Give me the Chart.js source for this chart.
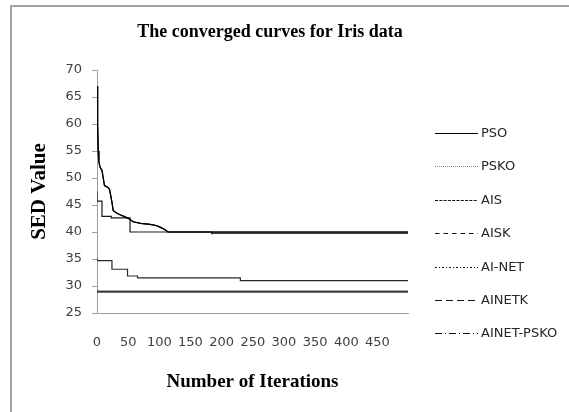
<!DOCTYPE html>
<html><head><meta charset="utf-8">
<script src="https://cdn.jsdelivr.net/npm/chart.js@4.4.1/dist/chart.umd.min.js"></script>
<style>html,body{margin:0;padding:0;background:#fff}</style>
</head><body>
<canvas id="c" width="569" height="412"></canvas>
<script>
// ---------- data ----------
const seriesNames = ['PSO', 'PSKO', 'AIS', 'AISK', 'AI-NET', 'AINETK', 'AINET-PSKO'];

const psoIter = [0, 1, 2, 3, 5, 8, 10, 12, 17, 20, 22, 24, 26, 30, 37, 45, 52, 58, 70, 85, 95, 101, 108, 114, 499];
const psoVal  = [67, 60, 55, 53, 52, 51.4, 50, 48.6, 48.3, 47.9, 46.8, 45.5, 44, 43.6, 43.2, 42.8, 42.4, 41.9, 41.6, 41.4, 41.2, 40.9, 40.5, 40, 40];

const pskoIter = [0, 8, 23, 53, 58, 499];
const pskoVal  = [47.5, 45.7, 42.9, 42.6, 40, 40];

const aisIter = [0, 1, 2, 3, 5, 8, 10, 12, 17, 20, 22, 24, 26, 30, 37, 45, 52, 58, 70, 85, 95, 101, 108, 114, 183, 184, 499];
const aisVal  = [67, 60, 55, 53, 52, 51.4, 50, 48.6, 48.3, 47.9, 46.8, 45.5, 44, 43.6, 43.2, 42.8, 42.4, 41.9, 41.6, 41.4, 41.2, 40.9, 40.5, 40, 40, 39.8, 39.8];

const aiskIter = [0, 24, 49, 65, 230, 254, 499];
const aiskVal  = [35.2, 34.7, 33.1, 31.85, 31.5, 31.0, 31.0];

const ainetIter = [0, 3, 499];
const ainetVal  = [29.3, 29.0, 29.0];

const ainetkIter = [0, 499];
const ainetkVal  = [28.85, 28.85];

const ainetPskoIter = [0, 499];
const ainetPskoVal  = [29.0, 29.0];

const xTickValues = [0, 50, 100, 150, 200, 250, 300, 350, 400, 450];
const yTickValues = [25, 30, 35, 40, 45, 50, 55, 60, 65, 70];

// ---------- styles ----------
const lineColors  = ['#000000', '#1a1a1a', '#000000', '#2a2a2a', '#3a3a3a', '#3a3a3a', '#3a3a3a'];
const steppedMode = [false, 'after', false, 'after', 'after', 'after', 'after'];
const legendDash  = [[], [1, 1], [3, 1.3], [4.5, 4], [2, 2, 1, 2], [7, 4], [7, 3, 1, 3]];
const legendColor = ['#000', '#8a8a8a', '#111', '#111', '#111', '#111', '#111'];

const iters = [psoIter, pskoIter, aisIter, aiskIter, ainetIter, ainetkIter, ainetPskoIter];
const vals  = [psoVal, pskoVal, aisVal, aiskVal, ainetVal, ainetkVal, ainetPskoVal];

const datasets = seriesNames.map((name, i) => ({
  label: name,
  data: iters[i].map((x, k) => ({ x: x, y: vals[i][k] })),
  borderColor: lineColors[i],
  borderWidth: 1.2,
  pointRadius: 0,
  fill: false,
  tension: 0,
  stepped: steppedMode[i]
}));

const frame = {
  id: 'frame',
  beforeDraw(chart) {
    const ctx = chart.ctx;
    ctx.save();
    ctx.fillStyle = '#ffffff';
    ctx.fillRect(0, 0, chart.width, chart.height);
    ctx.strokeStyle = '#a3a3a3';
    ctx.lineWidth = 2;
    ctx.beginPath();
    ctx.moveTo(11, chart.height);
    ctx.lineTo(11, 6);
    ctx.lineTo(chart.width, 6);
    ctx.stroke();
    ctx.restore();
  }
};

const sideLegend = {
  id: 'sideLegend',
  afterDraw(chart) {
    const ctx = chart.ctx;
    ctx.save();
    ctx.font = '13px "DejaVu Sans"';
    ctx.textBaseline = 'middle';
    ctx.textAlign = 'left';
    chart.data.datasets.forEach((ds, i) => {
      const y = Math.round(132.7 + i * 33.45) + 0.5;
      ctx.strokeStyle = legendColor[i];
      ctx.lineWidth = 1.2;
      ctx.setLineDash(legendDash[i]);
      ctx.beginPath();
      ctx.moveTo(435, y);
      ctx.lineTo(478, y);
      ctx.stroke();
      ctx.setLineDash([]);
      ctx.fillStyle = '#262626';
      ctx.fillText(ds.label, 481, y);
    });
    ctx.restore();
  }
};

new Chart(document.getElementById('c'), {
  type: 'line',
  data: { datasets: datasets },
  plugins: [frame, sideLegend],
  options: {
    responsive: false,
    animation: false,
    layout: { padding: { left: 10, right: 39, top: 5, bottom: 0 } },
    plugins: {
      legend: { display: false },
      tooltip: { enabled: false },
      title: {
        display: true,
        text: 'The converged curves for Iris data',
        color: '#000',
        font: { family: '"Liberation Serif"', size: 18, weight: 'bold' },
        padding: { top: 17, bottom: 26.4 }
      }
    },
    scales: {
      x: {
        type: 'linear',
        min: 0,
        max: 499,
        afterBuildTicks: s => { s.ticks = xTickValues.map(v => ({ value: v })); },
        afterFit: s => { s.height = 99; },
        grid: { display: true, drawOnChartArea: false, drawTicks: false },
        border: { display: true, color: '#9e9e9e', width: 1 },
        ticks: { autoSkip: false, maxRotation: 0, padding: 22, color: '#404040', font: { family: '"DejaVu Sans"', size: 13 } },
        title: {
          display: true,
          text: 'Number of Iterations',
          color: '#000',
          font: { family: '"Liberation Serif"', size: 19, weight: 'bold' },
          padding: { top: 0, bottom: 19 }
        }
      },
      y: {
        type: 'linear',
        min: 25,
        max: 70,
        afterBuildTicks: s => { s.ticks = yTickValues.map(v => ({ value: v })); },
        afterFit: s => { s.width = 87; },
        grid: { display: true, drawOnChartArea: false, drawTicks: true, tickLength: 5, color: '#9e9e9e' },
        border: { display: true, color: '#9e9e9e', width: 1 },
        ticks: { padding: 10, color: '#404040', font: { family: '"DejaVu Sans"', size: 13 } },
        title: {
          display: true,
          text: 'SED Value',
          color: '#000',
          font: { family: '"Liberation Serif"', size: 21, weight: 'bold' },
          padding: { top: 17.4, bottom: 0 }
        }
      },
      spacer: {
        type: 'linear',
        position: 'right',
        display: true,
        afterFit: s => { s.width = 122; },
        grid: { display: false },
        border: { display: false },
        ticks: { display: false }
      }
    }
  }
});
</script>
</body></html>
